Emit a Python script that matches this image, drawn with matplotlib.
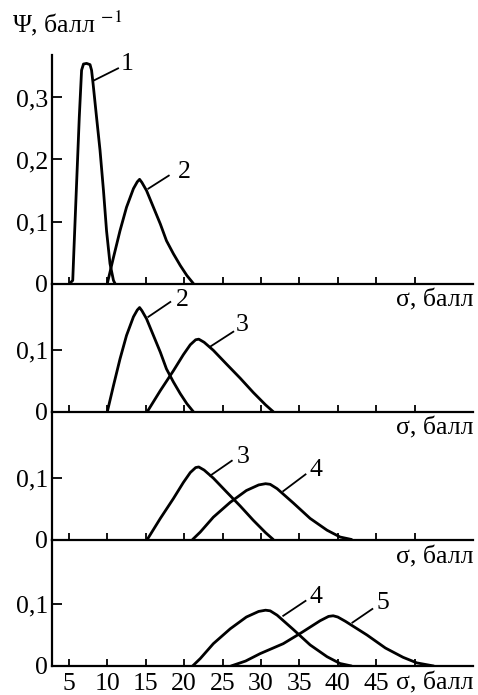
import matplotlib
matplotlib.use("Agg")
import matplotlib.pyplot as plt

# ---- data ----
c1x = [5.1, 5.5, 5.65, 6.0, 6.35, 6.65, 6.9, 7.3, 7.75, 7.95, 8.15, 8.6, 9.05, 9.5, 9.9, 10.35, 10.8, 11.0]
c1y = [0, 0.005, 0.053, 0.161, 0.268, 0.344, 0.354, 0.355, 0.353, 0.344, 0.322, 0.268, 0.215, 0.15, 0.085, 0.032, 0.005, 0]

c2x = [10.0, 10.8, 11.65, 12.5, 13.4, 13.9, 14.2, 14.5, 15.1, 16.0, 16.9, 17.7, 18.6, 19.5, 20.35, 21.2]
c2y = [0, 0.042, 0.085, 0.123, 0.153, 0.164, 0.168, 0.163, 0.150, 0.123, 0.096, 0.069, 0.048, 0.029, 0.013, 0]

c3x = [15.2, 16.9, 18.6, 19.9, 20.8, 21.5, 21.9, 22.6, 23.8, 25.5, 27.3, 29.0, 30.6, 31.6]
c3y = [0, 0.034, 0.066, 0.092, 0.108, 0.116, 0.117, 0.112, 0.099, 0.077, 0.054, 0.031, 0.011, 0]

c4x = [21.1, 22.1, 23.8, 26.0, 28.1, 29.7, 30.6, 31.2, 32.1, 34.2, 36.4, 38.6, 40.3, 41.8]
c4y = [0, 0.012, 0.036, 0.060, 0.079, 0.088, 0.090, 0.089, 0.082, 0.059, 0.034, 0.015, 0.004, 0]

c5x = [26.1, 28.0, 29.9, 32.9, 35.3, 37.7, 38.8, 39.4, 40.0, 41.0, 43.8, 46.2, 48.5, 50.3, 52.5]
c5y = [0, 0.008, 0.020, 0.036, 0.054, 0.073, 0.080, 0.081, 0.079, 0.072, 0.050, 0.029, 0.014, 0.005, 0]

curves = {"1": (c1x, c1y), "2": (c2x, c2y), "3": (c3x, c3y), "4": (c4x, c4y), "5": (c5x, c5y)}
panel_curves = [("1", "2"), ("2", "3"), ("3", "4"), ("4", "5")]

x_ticks = [5, 10, 15, 20, 25, 30, 35, 40, 45, 50]
x_ticklabels = ["5", "10", "15", "20", "25", "30", "35", "40", "45", ""]
y_ticks_top = [0, 0.1, 0.2, 0.3]
y_ticks_other = [0, 0.1]
x_label = "σ, балл"
y_label = "Ψ, балл $^{-1}$"

# ---- layout ----
W, H = 478, 695
plt.rcParams["font.family"] = ["Liberation Serif", "DejaVu Serif"]
plt.rcParams["mathtext.fontset"] = "stix"
fig = plt.figure(figsize=(W / 100, H / 100), dpi=100)

left_px, right_px = 52, 473
# (top pixel, baseline pixel) per panel
panel_px = [(55, 283.5), (283.5, 411.7), (411.7, 539.5), (539.5, 666)]
px_per_unit = 620.0
xlim = (2.8, 57.6)

# label annotation positions (text x, text y, leader start, leader end)
labels = [
    [("1", 12.6, 0.354, (8.17, 0.327), (11.4, 0.347)), ("2", 20.0, 0.180, (15.34, 0.153), (18.0, 0.174))],
    [("2", 19.8, 0.180, (15.34, 0.153), (18.2, 0.177)), ("3", 27.6, 0.140, (23.4, 0.105), (26.4, 0.129))],
    [("3", 27.7, 0.133, (23.4, 0.103), (26.2, 0.127)), ("4", 37.2, 0.112, (32.9, 0.078), (35.8, 0.105))],
    [("4", 37.2, 0.112, (32.9, 0.081), (35.8, 0.105)), ("5", 45.9, 0.101, (41.9, 0.070), (44.5, 0.092))],
]

fs = 18.5
axes = []
for i, (tp, bp) in enumerate(panel_px):
    ax = fig.add_axes([left_px / W, 1 - bp / H, (right_px - left_px) / W, (bp - tp) / H])
    axes.append(ax)
    ax.set_xlim(*xlim)
    ax.set_ylim(0, (bp - tp) / px_per_unit)
    for s in ("top", "right"):
        ax.spines[s].set_visible(False)
    for s in ("left", "bottom"):
        ax.spines[s].set_linewidth(1.6)
    ax.patch.set_alpha(0)
    for name in panel_curves[i]:
        xs, ys = curves[name]
        ax.plot(xs, ys, color="black", lw=2.0, solid_joinstyle="round", solid_capstyle="round")
    for (t, tx, ty, p0, p1) in labels[i]:
        ax.plot([p0[0], p1[0]], [p0[1], p1[1]], color="black", lw=1.3)
        ax.text(tx, ty, t, ha="center", va="center", fontsize=fs)
    ax.set_xticks(x_ticks)
    yt = y_ticks_top if i == 0 else y_ticks_other
    ax.set_yticks(yt)
    ax.set_yticklabels([("0" if v == 0 else f"{v:.1f}".replace(".", ",")) for v in yt], fontsize=fs)
    ax.tick_params(axis="x", direction="in", length=5, width=1.3)
    ax.tick_params(axis="y", direction="in", length=7, width=1.3, pad=3)
    if i == 3:
        ax.set_xticklabels(x_ticklabels, fontsize=fs)
        ax.tick_params(axis="x", pad=5)
    else:
        ax.set_xticklabels([])

# "σ, балл" labels below each baseline at right (text baselines)
sig_y_px = [306, 434, 563, 689]
for py in sig_y_px:
    fig.text(right_px / W, 1 - py / H, x_label, ha="right", va="baseline", fontsize=fs)

fig.text(12 / W, 1 - 23 / H, y_label, ha="left", va="center", fontsize=fs)

fig.savefig("out.png", dpi=100)
